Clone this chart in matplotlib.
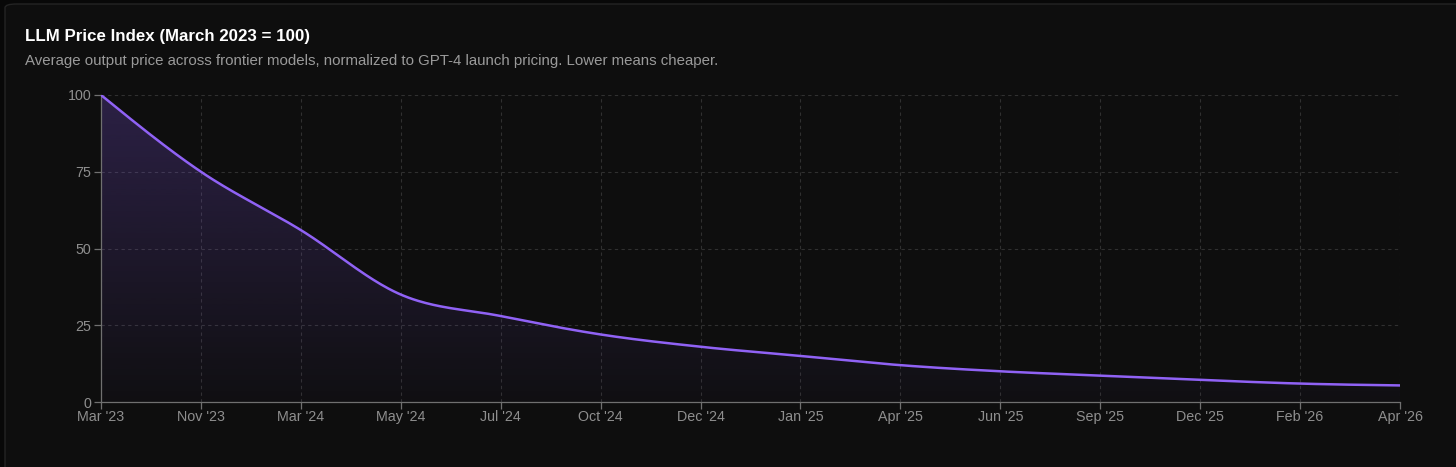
import numpy as np
import matplotlib
matplotlib.use("Agg")
import matplotlib.pyplot as plt
from matplotlib.patches import FancyBboxPatch, PathPatch
from matplotlib.path import Path

# ---- data ----
months = ["Mar '23", "Nov '23", "Mar '24", "May '24", "Jul '24", "Oct '24", "Dec '24",
          "Jan '25", "Apr '25", "Jun '25", "Sep '25", "Dec '25", "Feb '26", "Apr '26"]
index_values = [100, 75, 56, 35, 28, 22, 18, 15, 12, 10, 8.6, 7.2, 6.0, 5.4]
y_ticks = [0, 25, 50, 75, 100]

title = "LLM Price Index (March 2023 = 100)"
subtitle = ("Average output price across frontier models, normalized to GPT-4 launch pricing. "
            "Lower means cheaper.")

# ---- styling ----
BG_OUT = "#080808"
BG_CARD = "#0e0e0e"
LINE = "#9062f5"
GRID = "#303030"
AXIS = "#707070"
TICK_TXT = "#8e8e8e"
plt.rcParams['font.family'] = ['Liberation Sans', 'DejaVu Sans']

W, H = 1456, 467
fig = plt.figure(figsize=(W / 100, H / 100), dpi=100, facecolor=BG_OUT)

# card
card = FancyBboxPatch((5 / W, -40 / H), (W + 40) / W, (H - 4 + 40) / H,
                      boxstyle="round,pad=0,rounding_size=0.008",
                      transform=fig.transFigure, facecolor=BG_CARD,
                      edgecolor="#242424", linewidth=1.0, zorder=-10)
fig.patches.append(card)

fig.text(25 / W, 1 - 36 / H, title, color="white", fontsize=12.2,
         fontweight="bold", va="center", ha="left")
fig.text(25 / W, 1 - 61 / H, subtitle, color="#9a9a9a", fontsize=10.8,
         va="center", ha="left")

left, right, top, bottom = 101, 1400, 95, 402
ax = fig.add_axes([left / W, 1 - bottom / H, (right - left) / W, (bottom - top) / H])
ax.set_facecolor("none")
ax.set_zorder(5)

x = np.arange(len(months), dtype=float)
y = np.array(index_values, dtype=float)

# monotone-X cubic curve (d3 curveMonotoneX style) for rendering the line
def monotone_curve(xs, ys, per=40):
    n = len(xs)
    h = np.diff(xs)
    s = np.diff(ys) / h
    t = np.zeros(n)
    for i in range(1, n - 1):
        s0, s1 = s[i - 1], s[i]
        p = (s0 * h[i] + s1 * h[i - 1]) / (h[i - 1] + h[i])
        t[i] = (np.sign(s0) + np.sign(s1)) * min(abs(s0), abs(s1), 0.5 * abs(p))
    t[0] = (3 * s[0] - t[1]) / 2
    t[-1] = (3 * s[-1] - t[-2]) / 2
    px, py = [], []
    for i in range(n - 1):
        u = np.linspace(0, 1, per, endpoint=(i == n - 2))
        dx = h[i]
        h00 = 2 * u**3 - 3 * u**2 + 1
        h10 = u**3 - 2 * u**2 + u
        h01 = -2 * u**3 + 3 * u**2
        h11 = u**3 - u**2
        px.append(xs[i] + u * dx)
        py.append(h00 * ys[i] + h10 * dx * t[i] + h01 * ys[i + 1] + h11 * dx * t[i + 1])
    return np.concatenate(px), np.concatenate(py)

cx, cy = monotone_curve(x, y)

ax.set_xlim(x[0], x[-1])
ax.set_ylim(0, 100)

# gradient fill under curve
grad = np.zeros((256, 1, 4))
rgb = matplotlib.colors.to_rgb("#8b5cf6")
grad[:, 0, 0:3] = rgb
grad[:, 0, 3] = np.linspace(0.24, 0.02, 256)
im = ax.imshow(grad, aspect="auto", extent=[x[0], x[-1], 0, 100], origin="upper",
               zorder=1, interpolation="bilinear")
verts = np.column_stack([np.concatenate([cx, [cx[-1], cx[0]]]),
                         np.concatenate([cy, [0, 0]])])
clip = PathPatch(Path(verts), transform=ax.transData, facecolor="none", edgecolor="none")
ax.add_patch(clip)
im.set_clip_path(clip)
ax.set_xlim(x[0], x[-1])
ax.set_ylim(0, 100)

ax.plot(cx, cy, color=LINE, lw=1.8, zorder=3, solid_capstyle="round")

# grid
ax.set_xticks(x)
ax.set_xticklabels(months)
ax.set_yticks(y_ticks)
ax.set_yticklabels([str(v) for v in y_ticks])
ax.grid(True, color=GRID, linestyle=(0, (3, 3)), linewidth=0.8, zorder=0)
ax.set_axisbelow(True)

for side in ["top", "right"]:
    ax.spines[side].set_visible(False)
for side in ["left", "bottom"]:
    ax.spines[side].set_color(AXIS)
    ax.spines[side].set_linewidth(0.9)

ax.tick_params(axis="both", colors=AXIS, labelcolor=TICK_TXT, labelsize=10.3,
               length=5, width=0.9)
ax.tick_params(axis="x", pad=1)
ax.tick_params(axis="y", pad=2)

fig.savefig("out.png", dpi=100, facecolor=BG_OUT)
